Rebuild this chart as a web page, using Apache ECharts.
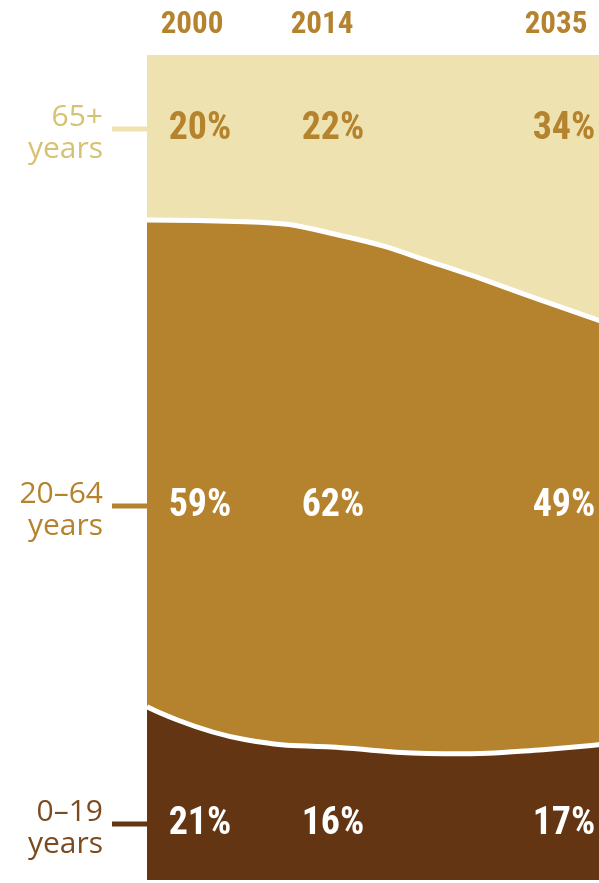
<!DOCTYPE html>
<html>
<head>
<meta charset="utf-8">
<style>
  html, body { margin: 0; padding: 0; background: #ffffff; overflow: hidden; width: 599px; height: 883px; }
  /* the plot runs on past the right edge of the page, where 2035 sits */
  #chart { width: 642px; height: 883px; }
</style>
<script src="https://cdn.jsdelivr.net/npm/echarts@6/dist/echarts.min.js"></script>
</head>
<body>
<div id="chart"></div>
<script>
// Population shares by age group (percent of total), every seven years
const years     = ['2000', '2007', '2014', '2021', '2028', '2035'];
const age0to19  = [21,   17.0, 16,   15.3, 15.8, 17];
const age20to64 = [59,   62.8, 62,   59.1, 54.4, 49];
const age65plus = [20,   20.2, 22,   25.6, 29.8, 34];

// Years that get a labelled column
const columnYears = ['2000', '2014', '2035'];
// Age groups, top to bottom as shown in the rows
const groupLabels = ['65+\nyears', '20\u201364\nyears', '0\u201319\nyears'];
const groupSeries = [age65plus, age20to64, age0to19];

const COLORS = {
  old: '#EEE3B0',
  working: '#B5832D',
  young: '#633513',
  oldText: '#D6C273',
  youngText: '#7C4B1F'
};
const CONDENSED = '"Roboto Condensed", "DejaVu Sans Condensed", sans-serif';

const chart = echarts.init(document.getElementById('chart'), null, { renderer: 'canvas' });

function areaSeries(name, values, color, z, line) {
  return {
    name: name,
    type: 'line',
    stack: 'share',
    smooth: 0.5,
    symbol: 'none',
    z: z,
    data: values,
    lineStyle: line ? { color: '#ffffff', width: 5 } : { width: 0 },
    areaStyle: { color: color, opacity: 1 },
    emphasis: { disabled: true }
  };
}

// Column and row layout for the text annotations
const headerX = [192, 322, 556];
const valueX  = [200, 333, 564];
const rowY    = [129, 506, 824];
const rowText = [COLORS.oldText, COLORS.working, COLORS.youngText];
const rowTick = [COLORS.old, COLORS.working, COLORS.young];
const valueFill = [COLORS.working, '#ffffff', '#ffffff'];

const graphics = [];
columnYears.forEach((yr, c) => {
  graphics.push({
    type: 'text', x: headerX[c], y: 25, z: 10,
    style: {
      text: yr, fill: COLORS.working,
      font: 'bold 31px ' + CONDENSED,
      align: 'center', verticalAlign: 'middle'
    }
  });
  const idx = years.indexOf(yr);
  groupSeries.forEach((vals, r) => {
    graphics.push({
      type: 'text', x: valueX[c], y: rowY[r], z: 10,
      style: {
        text: Math.round(vals[idx]) + '%', fill: valueFill[r],
        font: 'bold 38px ' + CONDENSED,
        align: 'center', verticalAlign: 'middle'
      }
    });
  });
});
groupLabels.forEach((label, r) => {
  graphics.push({
    type: 'text', x: 103, y: rowY[r] + 4, z: 10,
    style: {
      text: label, fill: rowText[r],
      font: '30px "Open Sans", sans-serif',
      lineHeight: 32,
      align: 'right', verticalAlign: 'middle'
    }
  });
  graphics.push({
    type: 'line', z: 10,
    shape: { x1: 112, y1: rowY[r], x2: 147, y2: rowY[r] },
    style: { stroke: rowTick[r], lineWidth: 5 }
  });
});

chart.setOption({
  animation: false,
  backgroundColor: '#ffffff',
  grid: { left: 147, right: 0, top: 55, bottom: 3, containLabel: false },
  xAxis: {
    type: 'category', data: years, boundaryGap: false,
    show: false
  },
  yAxis: {
    type: 'value', min: 0, max: 100,
    show: false
  },
  series: [
    areaSeries('0\u201319 years', age0to19, COLORS.young, 4, true),
    areaSeries('20\u201364 years', age20to64, COLORS.working, 3, true),
    areaSeries('65+ years', age65plus, COLORS.old, 2, false)
  ],
  graphic: graphics
});
</script>
</body>
</html>
